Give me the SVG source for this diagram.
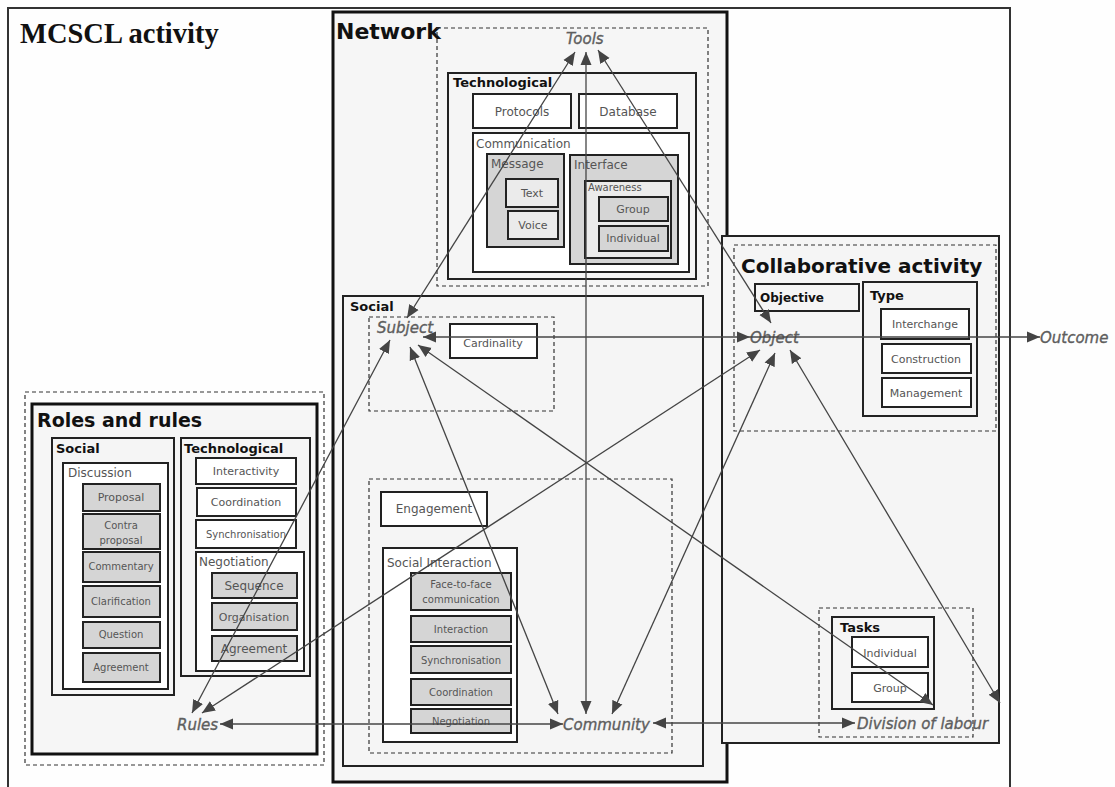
<svg xmlns="http://www.w3.org/2000/svg" width="1115" height="787" viewBox="0 0 1115 787">
<defs>
<style>
.box{fill:#fff;stroke:#222;stroke-width:2}
.pan{fill:#f5f5f5;stroke:#222;stroke-width:2}
.gry{fill:#d5d5d5;stroke:#222;stroke-width:2}
.lgt{fill:#ebebeb;stroke:#222;stroke-width:2}
.dash{fill:none;stroke:#333;stroke-width:1.2;stroke-dasharray:4 3}
.thick{fill:#f6f6f6;stroke:#111;stroke-width:3}
.t{font-family:"DejaVu Sans",sans-serif;font-size:11px;fill:#555}
.s{font-size:10px}
.m{font-size:12px}
.tc{text-anchor:middle}
.h{font-family:"DejaVu Sans",sans-serif;font-size:13px;font-weight:bold;fill:#111}
.title{font-family:"DejaVu Sans",sans-serif;font-size:22px;font-weight:bold;fill:#111}
.it{font-family:"DejaVu Sans",sans-serif;font-size:15px;font-style:italic;fill:#5e5e5e;stroke:#5e5e5e;stroke-width:0.35}
.c{fill:none;stroke:#444;stroke-width:1.3}
</style>
<marker id="ah" markerUnits="userSpaceOnUse" markerWidth="14" markerHeight="12" refX="13" refY="5.5" orient="auto-start-reverse" viewBox="0 0 14 11"><path d="M0,0 L13,5.5 L0,11 z" fill="#444"/></marker>
</defs>
<rect x="0" y="0" width="1115" height="787" fill="#fefefe"/>
<g id="mcscl">
<rect x="8" y="8" width="1002" height="800" fill="#fefefe" stroke="#333" stroke-width="2"/>
<text x="20" y="43" style="font-family:'Liberation Serif',serif;font-size:28.5px;font-weight:bold;fill:#111">MCSCL activity</text>
</g>
<g id="network">
<rect class="thick" x="333" y="12" width="394" height="770"/>
<text class="title" x="336" y="39">Network</text>
</g>
<g id="tools">
<rect class="dash" x="437" y="28" width="271" height="258"/>
<text class="it" x="566" y="44">Tools</text>
</g>
<g id="net-technological">
<rect class="pan" x="448" y="73" width="248" height="206"/>
<text class="h" x="453" y="87">Technological</text>
</g>
<g id="protocols"><rect class="box" x="473" y="94" width="98" height="34"/><text class="t tc m" x="522" y="116">Protocols</text></g>
<g id="database"><rect class="box" x="579" y="94" width="98" height="34"/><text class="t tc m" x="628" y="116">Database</text></g>
<g id="communication"><rect class="box" x="473" y="133" width="216" height="139"/><text class="t m" x="476" y="148">Communication</text></g>
<g id="message"><rect class="gry" x="487" y="154" width="77" height="93"/><text class="t m" x="491" y="168">Message</text></g>
<g id="text"><rect class="lgt" x="506" y="179" width="52" height="28"/><text class="t tc" x="532" y="197">Text</text></g>
<g id="voice"><rect class="lgt" x="508" y="211" width="50" height="28"/><text class="t tc" x="533" y="229">Voice</text></g>
<g id="interface"><rect class="gry" x="570" y="155" width="108" height="109"/><text class="t m" x="574" y="169">Interface</text></g>
<g id="awareness"><rect class="lgt" x="585" y="181" width="86" height="77"/><text class="t s" x="588" y="191">Awareness</text></g>
<g id="group"><rect class="gry" x="599" y="197" width="69" height="24"/><text class="t tc" x="633" y="213">Group</text></g>
<g id="individual"><rect class="gry" x="599" y="226" width="69" height="25"/><text class="t tc" x="633" y="242">Individual</text></g>
<g id="net-social">
<rect class="pan" x="343" y="296" width="360" height="470"/>
<text class="h" x="350" y="311">Social</text>
</g>
<g id="subject">
<rect class="dash" x="369" y="317" width="185" height="94"/>
<text class="it" x="377" y="333">Subject</text>
</g>
<g id="cardinality"><rect class="box" x="450" y="324" width="87" height="34"/><text class="t tc" x="493" y="347">Cardinality</text></g>
<g id="community">
<rect class="dash" x="369" y="479" width="303" height="274"/>
<text class="it" x="563" y="730">Community</text>
</g>
<g id="engagement"><rect class="box" x="381" y="492" width="106" height="34"/><text class="t tc m" x="434" y="513">Engagement</text></g>
<g id="social-interaction"><rect class="box" x="383" y="548" width="134" height="194"/><text class="t m" x="387" y="567">Social Interaction</text></g>
<g id="face-to-face"><rect class="gry" x="411" y="573" width="100" height="37"/><text class="t tc s" x="461" y="588">Face-to-face</text><text class="t tc s" x="461" y="603">communication</text></g>
<g id="si-interaction"><rect class="gry" x="411" y="616" width="100" height="26"/><text class="t tc s" x="461" y="633">Interaction</text></g>
<g id="si-synchronisation"><rect class="gry" x="411" y="646" width="100" height="27"/><text class="t tc s" x="461" y="664">Synchronisation</text></g>
<g id="si-coordination"><rect class="gry" x="411" y="679" width="100" height="26"/><text class="t tc s" x="461" y="696">Coordination</text></g>
<g id="si-negotiation"><rect class="gry" x="411" y="709" width="100" height="24"/><text class="t tc s" x="461" y="725">Negotiation</text></g>
<g id="roles-and-rules">
<rect class="dash" x="25" y="392" width="299" height="373"/>
<rect class="thick" x="32" y="404" width="285" height="350"/>
<text class="title" x="37" y="427" style="font-size:19px">Roles and rules</text>
<text class="it" x="177" y="730">Rules</text>
</g>
<g id="roles-social"><rect class="pan" x="52" y="438" width="122" height="257"/><text class="h" x="56" y="453">Social</text></g>
<g id="discussion"><rect class="box" x="63" y="463" width="105" height="226"/><text class="t m" x="68" y="477">Discussion</text></g>
<g id="proposal"><rect class="gry" x="83" y="484" width="77" height="27"/><text class="t tc" x="121" y="501">Proposal</text></g>
<g id="contra-proposal"><rect class="gry" x="83" y="514" width="77" height="35"/><text class="t tc s" x="121" y="529">Contra</text><text class="t tc s" x="121" y="544">proposal</text></g>
<g id="commentary"><rect class="gry" x="83" y="552" width="77" height="30"/><text class="t tc s" x="121" y="570">Commentary</text></g>
<g id="clarification"><rect class="gry" x="83" y="586" width="77" height="31"/><text class="t tc s" x="121" y="605">Clarification</text></g>
<g id="question"><rect class="gry" x="83" y="622" width="77" height="26"/><text class="t tc s" x="121" y="638">Question</text></g>
<g id="agreement-d"><rect class="gry" x="83" y="653" width="77" height="29"/><text class="t tc s" x="121" y="671">Agreement</text></g>
<g id="roles-technological"><rect class="pan" x="181" y="438" width="129" height="238"/><text class="h" x="184" y="453">Technological</text></g>
<g id="interactivity"><rect class="box" x="196" y="458" width="100" height="26"/><text class="t tc" x="246" y="475">Interactivity</text></g>
<g id="coordination"><rect class="box" x="197" y="488" width="99" height="28"/><text class="t tc" x="246" y="506">Coordination</text></g>
<g id="synchronisation"><rect class="box" x="196" y="520" width="100" height="28"/><text class="t tc s" x="246" y="538">Synchronisation</text></g>
<g id="negotiation"><rect class="box" x="196" y="552" width="108" height="119"/><text class="t m" x="199" y="566">Negotiation</text></g>
<g id="sequence"><rect class="gry" x="212" y="573" width="85" height="25"/><text class="t tc m" x="254" y="590">Sequence</text></g>
<g id="organisation"><rect class="gry" x="212" y="603" width="85" height="27"/><text class="t tc" x="254" y="621">Organisation</text></g>
<g id="agreement-n"><rect class="gry" x="212" y="636" width="85" height="25"/><text class="t tc m" x="254" y="653">Agreement</text></g>
<g id="collaborative-activity">
<rect class="pan" x="722" y="236" width="277" height="507"/>
<rect class="dash" x="734" y="245" width="262" height="186"/>
<text class="title" x="741" y="273" style="font-size:20px">Collaborative activity</text>
<text class="it" x="750" y="343">Object</text>
</g>
<g id="objective"><rect class="pan" x="755" y="284" width="104" height="27"/><text class="h" x="760" y="302" style="font-size:12px">Objective</text></g>
<g id="type"><rect class="pan" x="863" y="282" width="114" height="134"/><text class="h" x="870" y="300">Type</text></g>
<g id="interchange"><rect class="box" x="881" y="309" width="88" height="30"/><text class="t tc" x="925" y="328">Interchange</text></g>
<g id="construction"><rect class="box" x="882" y="344" width="89" height="29"/><text class="t tc" x="926" y="363">Construction</text></g>
<g id="management"><rect class="box" x="882" y="378" width="89" height="29"/><text class="t tc" x="926" y="397">Management</text></g>
<g id="division-of-labour">
<rect class="dash" x="819" y="608" width="154" height="129"/>
<text class="it" x="857" y="729">Division of labour</text>
</g>
<g id="tasks"><rect class="pan" x="832" y="617" width="102" height="92"/><text class="h" x="840" y="632">Tasks</text></g>
<g id="task-individual"><rect class="box" x="852" y="637" width="76" height="30"/><text class="t tc" x="890" y="657">Individual</text></g>
<g id="task-group"><rect class="box" x="852" y="673" width="76" height="29"/><text class="t tc" x="890" y="692">Group</text></g>
<g id="outcome"><text class="it" x="1040" y="343">Outcome</text></g>
<g id="connectors">
<path class="c" d="M575,52 L407,318" marker-start="url(#ah)" marker-end="url(#ah)"/>
<path class="c" d="M586,52 L586,714" marker-start="url(#ah)" marker-end="url(#ah)"/>
<path class="c" d="M598,50 L771,323" marker-start="url(#ah)" marker-end="url(#ah)"/>
<path class="c" d="M423,337 L750,337" marker-start="url(#ah)" marker-end="url(#ah)"/>
<path class="c" d="M750,337 L1040,337" marker-end="url(#ah)"/>
<path class="c" d="M390,340 L192,713" marker-start="url(#ah)" marker-end="url(#ah)"/>
<path class="c" d="M410,347 L558,714" marker-start="url(#ah)" marker-end="url(#ah)"/>
<path class="c" d="M418,345 L933,705" marker-start="url(#ah)" marker-end="url(#ah)"/>
<path class="c" d="M760,350 L202,713" marker-start="url(#ah)" marker-end="url(#ah)"/>
<path class="c" d="M775,353 L612,714" marker-start="url(#ah)" marker-end="url(#ah)"/>
<path class="c" d="M790,350 L1000,703" marker-start="url(#ah)" marker-end="url(#ah)"/>
<path class="c" d="M220,724 L563,724" marker-start="url(#ah)" marker-end="url(#ah)"/>
<path class="c" d="M653,723 L855,723" marker-start="url(#ah)" marker-end="url(#ah)"/>
</g>
</svg>
